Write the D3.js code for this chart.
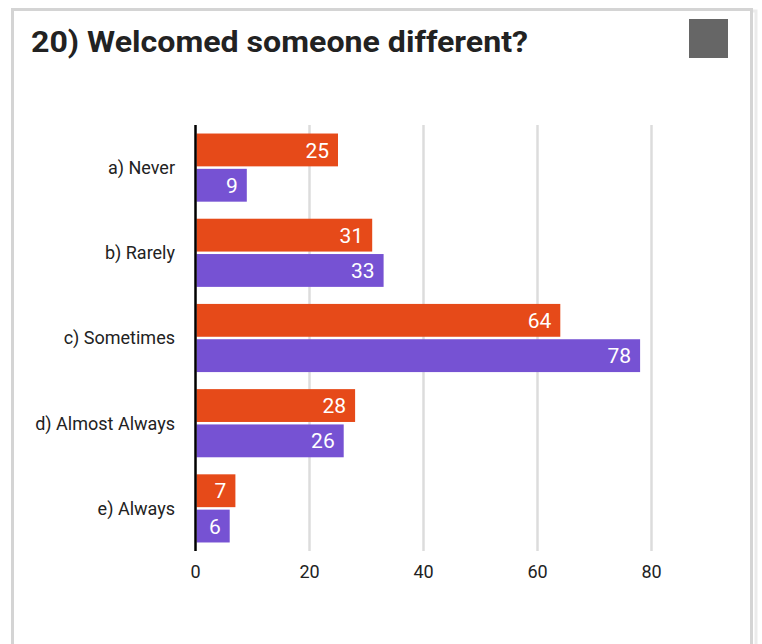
<!DOCTYPE html>
<html><head><meta charset="utf-8">
<script src="https://cdn.jsdelivr.net/npm/d3@7"></script>
<style>html,body{margin:0;padding:0;background:#fff;}svg{display:block;}</style>
</head><body>
<svg id="chart" width="762" height="644"></svg>
<script>
const title = "20) Welcomed someone different?";
const categories = ["a) Never","b) Rarely","c) Sometimes","d) Almost Always","e) Always"];
const seriesA = [25,31,64,28,7];
const seriesB = [9,33,78,26,6];
const xTicks = [0,20,40,60,80];
const colors = ["#E64A19","#7652D3"];

const svg = d3.select("#chart");
const font = "Roboto, 'Noto Sans', sans-serif";

// card
svg.append("rect").attr("x",14).attr("y",11).attr("width",742).attr("height",640)
  .attr("fill","none").attr("stroke","#ebebeb").attr("stroke-width",3);
svg.append("rect").attr("x",12.5).attr("y",9.5).attr("width",739).attr("height",640)
  .attr("fill","#fff").attr("stroke","#d4d4d4").attr("stroke-width",3);

// title
svg.append("text").attr("x",31).attr("y",52).text(title)
  .attr("font-family",font).attr("font-weight","bold").attr("font-size",30).attr("fill","#222")
  .attr("textLength",497).attr("lengthAdjust","spacingAndGlyphs");
svg.append("rect").attr("x",689).attr("y",19).attr("width",39).attr("height",39).attr("fill","#666");

const x = d3.scaleLinear().domain([0,80]).range([195.5,651.5]);
const y = d3.scaleBand().domain(categories).range([125,551]).paddingInner(0.2).paddingOuter(0.1);
const yi = d3.scaleBand().domain([0,1]).range([0,y.bandwidth()]).paddingInner(0.07);

// gridlines
svg.append("g").selectAll("line").data(xTicks.filter(d=>d>0)).join("line")
  .attr("x1",d=>x(d)).attr("x2",d=>x(d)).attr("y1",125).attr("y2",551)
  .attr("stroke","#dcdcdc").attr("stroke-width",2.5);

// tick labels
svg.append("g").selectAll("text").data(xTicks).join("text")
  .attr("x",d=>x(d)).attr("y",578).attr("text-anchor","middle")
  .attr("font-family",font).attr("font-size",18).attr("fill","#222").text(d=>d);

// category labels
svg.append("g").selectAll("text").data(categories).join("text")
  .attr("x",175).attr("y",d=>y(d)+y.bandwidth()/2).attr("dy","0.35em").attr("text-anchor","end")
  .attr("font-family",font).attr("font-size",18).attr("fill","#222").text(d=>d);

// bars
const series = [seriesA, seriesB];
series.forEach((vals,si)=>{
  const g = svg.append("g");
  g.selectAll("rect").data(vals).join("rect")
    .attr("x",x(0)+1).attr("y",(d,i)=>y(categories[i])+yi(si))
    .attr("width",d=>x(d)-x(0)-1).attr("height",yi.bandwidth()).attr("fill",colors[si]);
  g.selectAll("text").data(vals).join("text")
    .attr("x",d=>x(d)-9).attr("y",(d,i)=>y(categories[i])+yi(si)+yi.bandwidth()/2).attr("dy","0.36em")
    .attr("text-anchor","end").attr("font-family",font).attr("font-size",21).attr("fill","#fff").text(d=>d);
});

// axis line
svg.append("line").attr("x1",x(0)).attr("x2",x(0)).attr("y1",125).attr("y2",551)
  .attr("stroke","#000").attr("stroke-width",2.5);
</script>
</body></html>
